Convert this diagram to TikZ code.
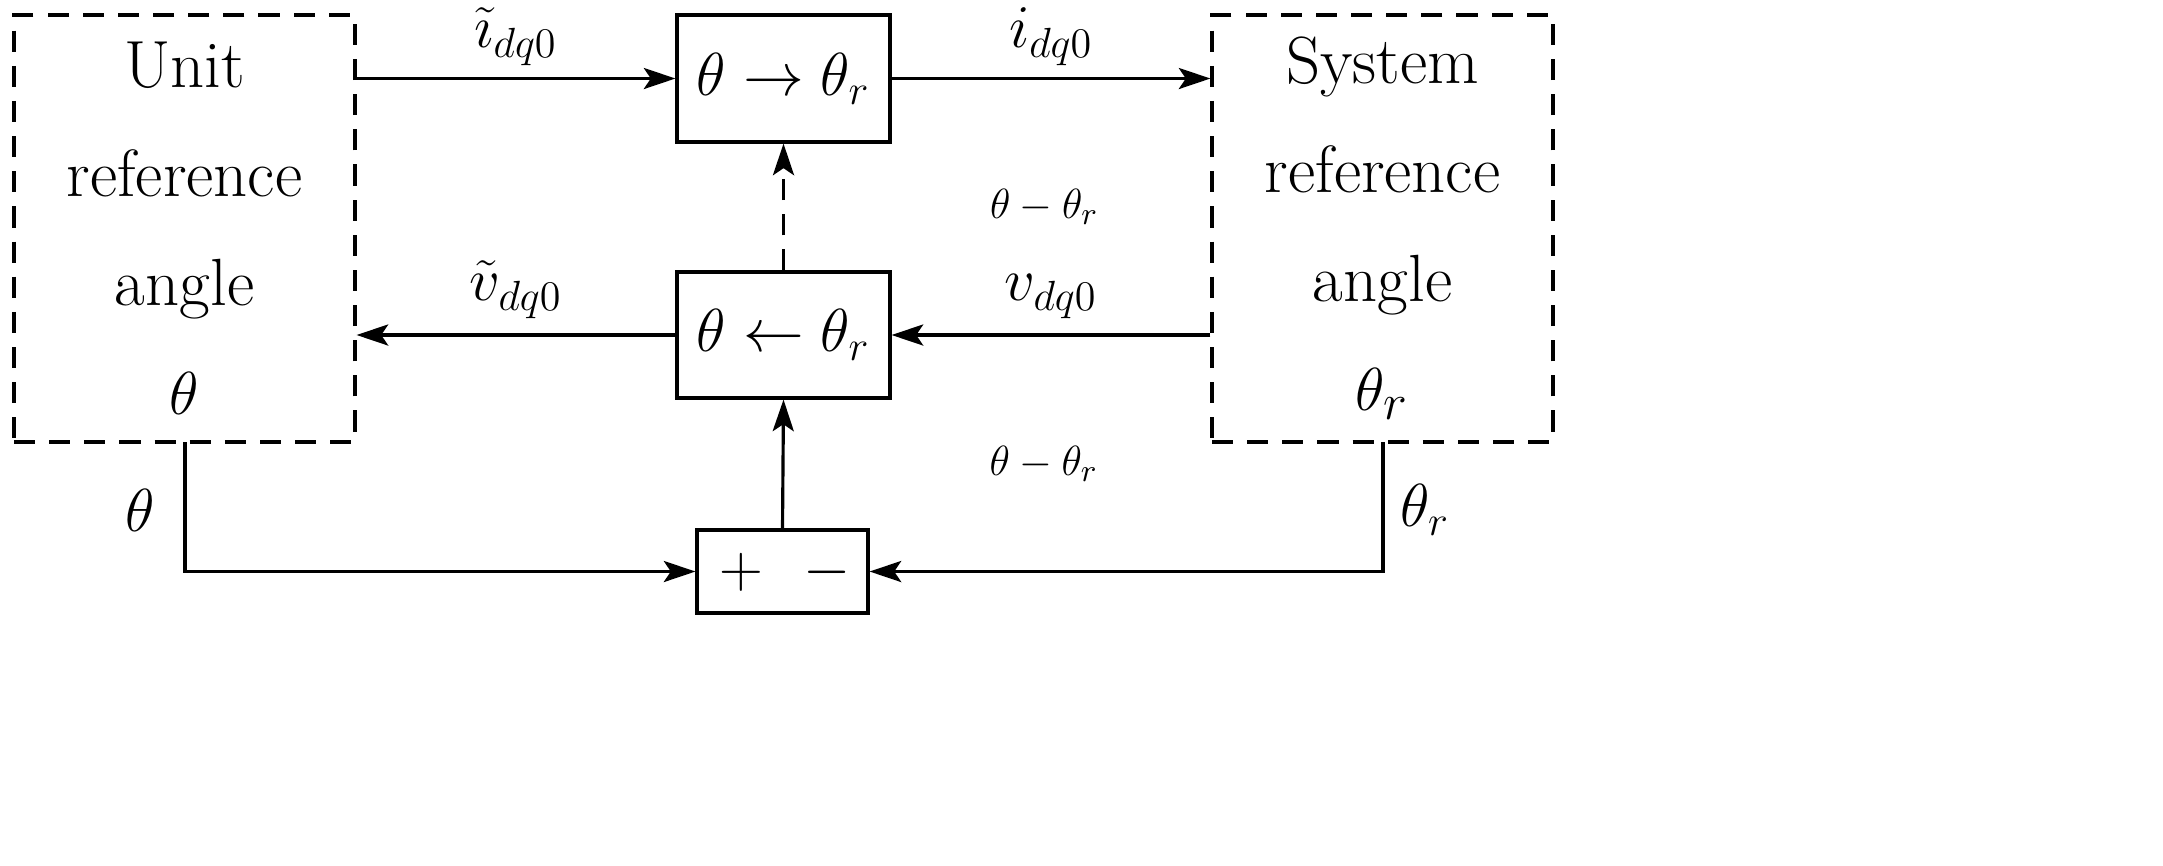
\documentclass[tikz,border=0pt]{standalone}
\usetikzlibrary{arrows.meta}
\begin{document}
\begin{tikzpicture}[x=1cm,y=-1cm,line width=0.9pt,
  big/.style={font=\fontsize{18}{30}\selectfont},
  sm/.style={font=\fontsize{13}{16}\selectfont},
  dbox/.style={draw,dash pattern=on 6pt off 4pt,inner sep=0pt,align=center,font=\fontsize{19}{31}\selectfont},
  sbox/.style={draw,inner sep=0pt,font=\fontsize{18}{22}\selectfont},
  arr/.style={-{Stealth[length=9pt,width=6pt,inset=2pt]}}]
\useasboundingbox (0,0) rectangle (21.63,8.65);
\node[dbox,minimum width=3.41cm,minimum height=4.27cm] (L) at (1.845,2.285) {Unit\\reference\\angle\\$\theta$};
\node[dbox,minimum width=3.41cm,minimum height=4.27cm] (R) at (13.825,2.285) {System\\reference\\angle\\$\theta_r$};
\node[sbox,minimum width=2.13cm,minimum height=1.27cm] (T) at (7.835,0.785) {$\theta\rightarrow\theta_r$};
\node[sbox,minimum width=2.13cm,minimum height=1.26cm] (M) at (7.835,3.35) {$\theta\leftarrow\theta_r$};
\node[sbox,minimum width=1.71cm,minimum height=0.83cm] (B) at (7.825,5.715) {};
\node[big] (plus) at (7.41,5.72) {$+$};
\node[big] (minus) at (8.27,5.72) {$-$};
\coordinate (lb) at (1.85,4.42);
\coordinate (rb) at (13.83,4.42);
\draw[arr] (L.east |- T.west) -- (T.west) node[big,midway,above=0pt] (l1) {$\tilde{\imath}_{dq0}$};
\draw[arr] (T.east) -- (R.west |- T.east) node[big,midway,above=0pt] (l2) {$i_{dq0}$};
\draw[arr] (R.west |- M.east) -- (M.east) node[big,midway,above=1pt] (l3) {$v_{dq0}$};
\draw[arr] (M.west) -- (L.east |- M.west) node[big,midway,above=1pt] (l4) {$\tilde{v}_{dq0}$};
\draw[arr,dash pattern=on 6pt off 4pt] (M.north) -- (T.south) node[sm,midway,right=55pt] (l5) {$\theta-\theta_r$};
\draw[arr] (B.north) -- (M.south) node[sm,midway,right=55pt] (l6) {$\theta-\theta_r$};
\draw[arr] (lb) |- (B.west);
\draw[arr] (rb) |- (B.east);
\node[big] (l7) at (1.40,5.10) {$\theta$};
\node[big] (l8) at (14.25,5.10) {$\theta_r$};
\end{tikzpicture}
\end{document}
